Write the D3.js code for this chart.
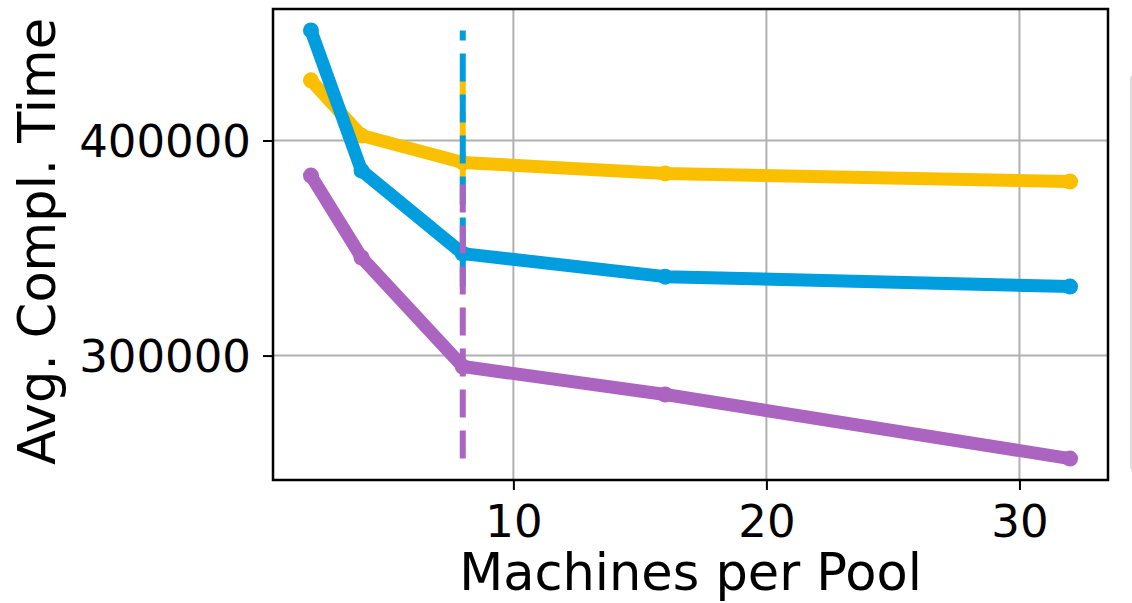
<!DOCTYPE html>
<html>
<head>
<meta charset="utf-8">
<script src="https://cdn.jsdelivr.net/npm/d3@7"></script>
<style>
  html, body { margin: 0; padding: 0; background: #fff; }
  svg { display: block; font-family: "DejaVu Sans", sans-serif; }
</style>
</head>
<body>
<svg id="chart" width="1132" height="603"></svg>
<script>
"use strict";
// machines per pool (x) and avg completion time per series
var machines = [2, 4, 8, 16, 32];
var yellowTimes = [428000, 402300, 389800, 384700, 380900];
var blueTimes = [451200, 386000, 347400, 336700, 332100];
var purpleTimes = [383700, 345600, 294900, 281900, 252100];
var xTicks = [10, 20, 30];
var yTicks = [300000, 400000];
var markX = 8;

var series = [
  { name: 'yellow', color: '#fac000', values: yellowTimes },
  { name: 'blue', color: '#009ddf', values: blueTimes },
  { name: 'purple', color: '#ab64c0', values: purpleTimes }
];

var svg = d3.select('#chart');
var plotLeft = 273, plotRight = 1108, plotTop = 9, plotBottom = 480;

// matplotlib-like 5% margins
var xMin = d3.min(machines), xMax = d3.max(machines);
var xPad = (xMax - xMin) * 0.05;
var allY = [].concat(yellowTimes, blueTimes, purpleTimes);
var yMin = d3.min(allY), yMax = d3.max(allY);
var yPad = (yMax - yMin) * 0.05;

var x = d3.scaleLinear().domain([xMin - xPad, xMax + xPad]).range([plotLeft, plotRight]);
var y = d3.scaleLinear().domain([yMin - yPad, yMax + yPad]).range([plotBottom, plotTop]);

// legend box, mostly outside the frame
svg.append('rect')
  .attr('x', 1131).attr('y', 75)
  .attr('width', 120).attr('height', 395)
  .attr('rx', 4)
  .style('fill', '#fff')
  .style('stroke', '#dcdcdc')
  .style('stroke-width', 2);

// grid
svg.append('g').selectAll('line')
  .data(xTicks).enter().append('line')
  .attr('x1', function (d) { return x(d); }).attr('x2', function (d) { return x(d); })
  .attr('y1', plotTop).attr('y2', plotBottom)
  .style('stroke', '#b0b0b0').style('stroke-width', 2);
svg.append('g').selectAll('line')
  .data(yTicks).enter().append('line')
  .attr('y1', function (d) { return y(d); }).attr('y2', function (d) { return y(d); })
  .attr('x1', plotLeft).attr('x2', plotRight)
  .style('stroke', '#b0b0b0').style('stroke-width', 2);

// axes
var xAxis = d3.axisBottom(x).tickValues(xTicks).tickSize(10).tickPadding(12).tickFormat(d3.format('d'));
var yAxis = d3.axisLeft(y).tickValues(yTicks).tickSize(10).tickPadding(12).tickFormat(d3.format('d'));

var gx = svg.append('g').attr('transform', 'translate(0,' + plotBottom + ')').call(xAxis);
var gy = svg.append('g').attr('transform', 'translate(' + plotLeft + ',0)').call(yAxis);
[gx, gy].forEach(function (g) {
  g.select('.domain').remove();
  g.selectAll('.tick line').style('stroke', '#000').style('stroke-width', 2);
  g.selectAll('.tick text')
    .style('font-family', '"DejaVu Sans", sans-serif')
    .style('font-size', '45px')
    .style('fill', '#000');
});
gx.selectAll('.tick text').attr('dy', '0.78em');
gy.selectAll('.tick text').attr('dy', '0.36em');

// lines
var line = d3.line()
  .x(function (d, i) { return x(machines[i]); })
  .y(function (d) { return y(d); });

var plot = svg.append('g');
series.forEach(function (s) {
  plot.append('path')
    .datum(s.values)
    .attr('d', line)
    .style('fill', 'none')
    .style('stroke', s.color)
    .style('stroke-width', 13)
    .style('stroke-linejoin', 'round');
  plot.selectAll('circle.' + s.name)
    .data(s.values).enter()
    .append('circle')
    .attr('class', s.name)
    .attr('cx', function (d, i) { return x(machines[i]); })
    .attr('cy', function (d) { return y(d); })
    .attr('r', 8)
    .style('fill', s.color);
});

// dashed min-max markers at x = 8
series.forEach(function (s) {
  plot.append('line')
    .attr('x1', x(markX)).attr('x2', x(markX))
    .attr('y1', y(d3.min(s.values))).attr('y2', y(d3.max(s.values)))
    .style('stroke', s.color)
    .style('stroke-width', 6)
    .style('stroke-dasharray', '28,13');
});

// frame
svg.append('rect')
  .attr('x', plotLeft).attr('y', plotTop)
  .attr('width', plotRight - plotLeft).attr('height', plotBottom - plotTop)
  .style('fill', 'none')
  .style('stroke', '#000')
  .style('stroke-width', 2.5);

// axis labels
svg.append('text')
  .attr('x', (plotLeft + plotRight) / 2).attr('y', 590)
  .attr('text-anchor', 'middle')
  .style('font-size', '51px')
  .text('Machines per Pool');

svg.append('text')
  .attr('transform', 'translate(55,' + ((plotTop + plotBottom) / 2 - 3) + ') rotate(-90)')
  .attr('text-anchor', 'middle')
  .style('font-size', '51px')
  .text('Avg. Compl. Time');
</script>
</body>
</html>
